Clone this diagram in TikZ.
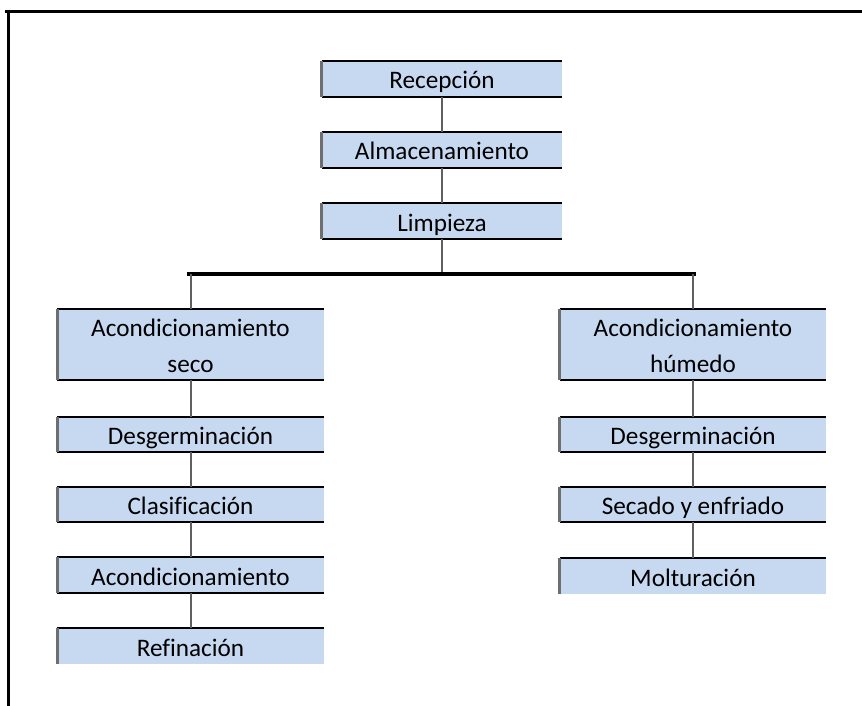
\documentclass[tikz,border=0pt]{standalone}
\usepackage{fontspec}
\setmainfont{Carlito}[Ligatures=NoCommon]
\usepackage{tikz}
\usetikzlibrary{positioning}
\definecolor{stagefill}{HTML}{C6D9F1}
\definecolor{linkgray}{HTML}{606060}
\definecolor{sidegray}{HTML}{6E6E6E}
\tikzset{
  stage/.style={rectangle,fill=stagefill,inner sep=0pt,minimum width=120pt,minimum height=18pt,text height=11pt,text depth=1pt,font=\fontsize{12.6}{18}\selectfont,align=center},
  wstage/.style={stage,minimum width=133pt,minimum height=17.5pt},
  tstage/.style={wstage,minimum height=35.5pt,text height=29pt},
  rule/.style={line width=1pt,black},
  side/.style={line width=1.4pt,sidegray},
  link/.style={line width=1pt,linkgray},
  bar/.style={line width=1.6pt,black},
  frame/.style={line width=1.5pt,black}
}
\begin{document}
\begin{tikzpicture}[x=0.5pt,y=-0.5pt]
  \useasboundingbox (0,0) rectangle (862,706);
  \draw[frame] (5,12) -- (862,12);
  \draw[frame] (8,12) -- (8,706);

  \node[stage] (rec) at (442,79) {Recepción};
  \node[stage] (alm) at (442,150) {Almacenamiento};
  \node[stage] (lim) at (442,221) {Limpieza};

  \node[tstage] (seco) at (190.5,344.5) {Acondicionamiento\\seco};
  \node[wstage] (desl) at (190.5,434.5) {Desgerminación};
  \node[wstage] (cla) at (190.5,504.5) {Clasificación};
  \node[wstage] (aco) at (190.5,575) {Acondicionamiento};
  \node[wstage] (ref) at (190.5,646) {Refinación};

  \node[tstage] (hum) at (693,344.5) {Acondicionamiento\\húmedo};
  \node[wstage] (desr) at (693,434.5) {Desgerminación};
  \node[wstage] (sec) at (693,504.5) {Secado y enfriado};
  \node[wstage] (mol) at (693,576) {Molturación};

  \foreach \n in {rec,alm,lim,seco,desl,cla,aco,hum,desr,sec}
    \draw[rule] (\n.south west) -- (\n.south east);
  \foreach \n in {rec,alm,lim,seco,desl,cla,aco,ref,hum,desr,sec,mol}{
    \draw[rule] (\n.north west) -- (\n.north east);
    \draw[side] (\n.north west) -- (\n.south west);
  }

  \coordinate (join) at (442,274);
  \coordinate (dropl) at (seco |- join);
  \coordinate (dropr) at (hum |- join);

  \draw[link] (rec) -- (alm);
  \draw[link] (alm) -- (lim);
  \draw[link] (lim) -- (join);
  \draw[bar,shorten <=-2pt,shorten >=-1.5pt] (dropl) -- (dropr);
  \draw[link] (dropl) -- (seco);
  \draw[link] (dropr) -- (hum);
  \draw[link] (seco) -- (desl);
  \draw[link] (desl) -- (cla);
  \draw[link] (cla) -- (aco);
  \draw[link] (aco) -- (ref);
  \draw[link] (hum) -- (desr);
  \draw[link] (desr) -- (sec);
  \draw[link] (sec) -- (mol);
\end{tikzpicture}
\end{document}
